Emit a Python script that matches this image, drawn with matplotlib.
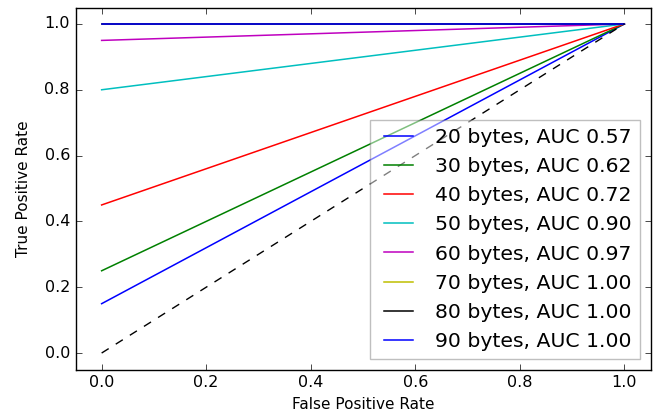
import numpy as np
import matplotlib
matplotlib.use('Agg')
import matplotlib.pyplot as plt

plt.style.use('classic')

sizes = [20, 30, 40, 50, 60, 70, 80, 90]
tpr_at_zero = [0.15, 0.25, 0.45, 0.80, 0.95, 1.0, 1.0, 1.0]
aucs = [0.57, 0.62, 0.72, 0.90, 0.97, 1.00, 1.00, 1.00]
colors = ['b', 'g', 'r', 'c', 'm', 'y', 'k', 'b']

fig = plt.figure(figsize=(6.61, 4.18), dpi=100)
ax = fig.add_axes([75.5 / 661, 48.5 / 418, 575 / 661, 362 / 418])

for s, y0, a, c in zip(sizes, tpr_at_zero, aucs, colors):
    ax.plot([0, 1], [y0, 1], color=c, lw=1.1, label='%d bytes, AUC %.2f' % (s, a))

ax.plot([0, 1], [0, 1], 'k--')
ax.set_xlim(-0.05, 1.05)
ax.set_ylim(-0.05, 1.05)
ax.set_xlabel('False Positive Rate', fontsize=11)
ax.set_ylabel('True Positive Rate', fontsize=11, labelpad=10)
ax.tick_params(labelsize=11.5)
leg = ax.legend(loc='lower right', fontsize=14.7, framealpha=0.5)
leg.get_frame().set_edgecolor('gray')

fig.savefig('out.png', dpi=100)
